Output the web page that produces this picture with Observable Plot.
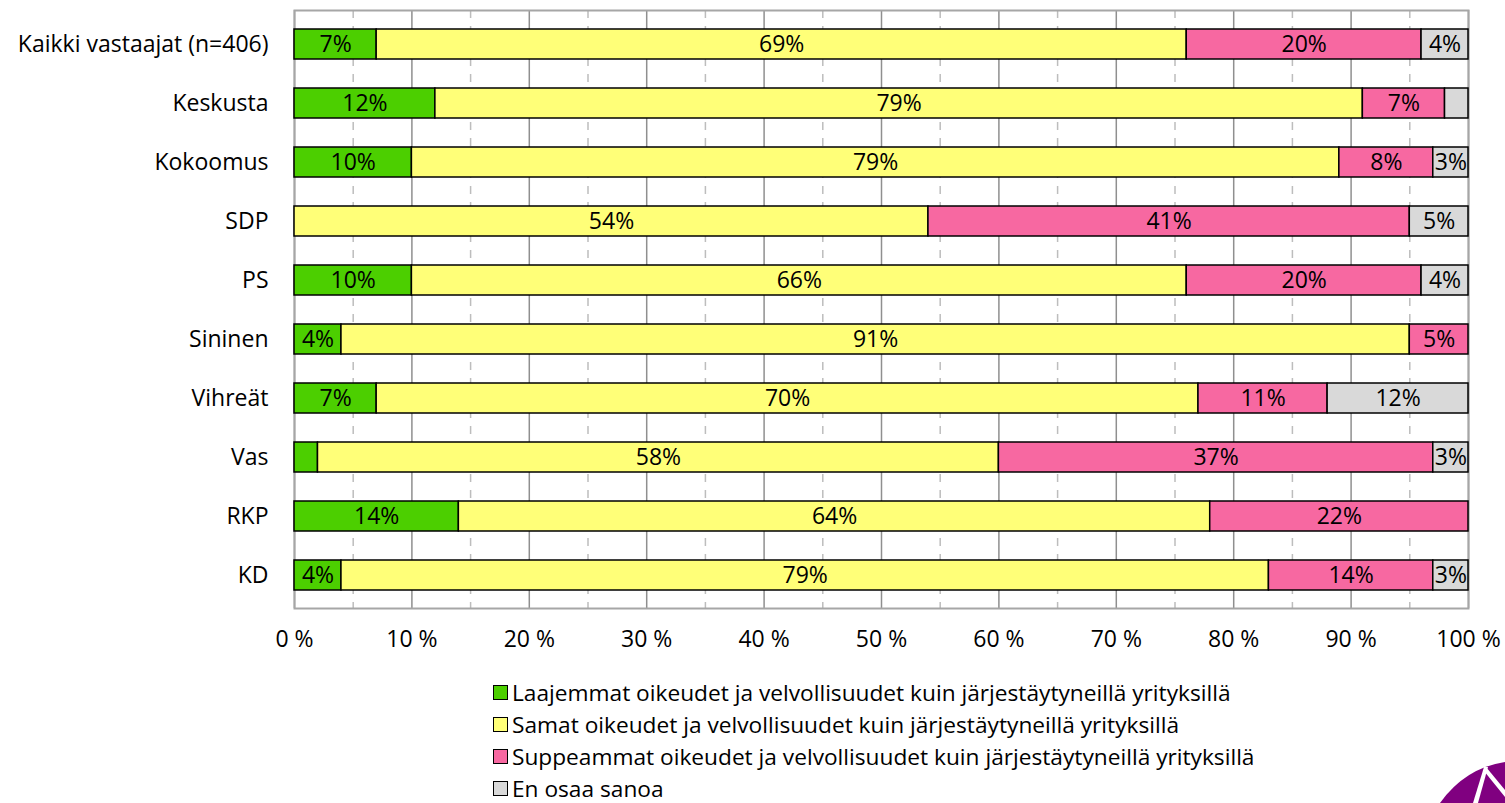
<!DOCTYPE html>
<html>
<head>
<meta charset="utf-8">
<script src="https://cdn.jsdelivr.net/npm/d3@7"></script>
<script src="https://cdn.jsdelivr.net/npm/@observablehq/plot@0.6"></script>
<style>
  html, body { margin: 0; padding: 0; background: #fff; }
  body { width: 1505px; height: 803px; overflow: hidden; font-family: "Open Sans", Lato, sans-serif; position: relative; }
  #legend { position: absolute; left: 493px; top: 681px; font-size: 22.7px; color: #000; }
  #legend .row { height: 23px; line-height: 23px; margin-bottom: 9px; display: flex; align-items: center; white-space: nowrap; }
  #legend .row:last-child { margin-bottom: 0; }
  #legend .sw { width: 13px; height: 13px; border: 1.5px solid #000; margin-right: 4px; box-sizing: content-box; flex: none; }
  #logo { position: absolute; left: 1420px; top: 740px; }
</style>
</head>
<body>
<div id="chart"></div>
<div id="legend"></div>
<svg id="logo" width="85" height="63" viewBox="0 0 85 63">
  <path d="M20,63 Q45,28 85,22 L85,63 Z" fill="#800080"/>
  <path d="M53,63 L64,27 L68,27 L58,63 Z" fill="#fff"/>
  <path d="M66,27 L85,50 L85,57 L64,31 Z" fill="#fff"/>
</svg>
<script>
const groups = ["Kaikki vastaajat (n=406)", "Keskusta", "Kokoomus", "SDP", "PS", "Sininen", "Vihreät", "Vas", "RKP", "KD"];
const categories = [
  "Laajemmat oikeudet ja velvollisuudet kuin järjestäytyneillä yrityksillä",
  "Samat oikeudet ja velvollisuudet kuin järjestäytyneillä yrityksillä",
  "Suppeammat oikeudet ja velvollisuudet kuin järjestäytyneillä yrityksillä",
  "En osaa sanoa"
];
const colors = ["#4ccf00", "#ffff78", "#f768a1", "#d9d9d9"];
const laajemmat  = [7, 12, 10, 0, 10, 4, 7, 2, 14, 4];
const samat      = [69, 79, 79, 54, 66, 91, 70, 58, 64, 79];
const suppeammat = [20, 7, 8, 41, 20, 5, 11, 37, 22, 14];
const eos        = [4, 2, 3, 5, 4, 0, 12, 3, 0, 3];
const series = [laajemmat, samat, suppeammat, eos];
const majorTicks = [0, 10, 20, 30, 40, 50, 60, 70, 80, 90, 100];
const minorTicks = [5, 15, 25, 35, 45, 55, 65, 75, 85, 95];

const data = [];
groups.forEach((g, i) => {
  series.forEach((s, k) => {
    data.push({group: g, category: categories[k], value: s[i]});
  });
});

const chart = Plot.plot({
  width: 1505,
  height: 660,
  marginLeft: 294,
  marginRight: 37,
  marginTop: 10,
  marginBottom: 52,
  style: {fontFamily: "'Open Sans', Lato, sans-serif", fontSize: "23px", color: "#000", background: "#fff"},
  x: {domain: [0, 100], ticks: majorTicks, tickFormat: d => `${d} %`, tickSize: 0, tickPadding: 22, label: null},
  y: {domain: groups, paddingInner: 0.5, paddingOuter: 0.25, tickSize: 0, tickPadding: 26, label: null},
  color: {domain: categories, range: colors},
  marks: [
    Plot.ruleX(minorTicks, {stroke: "#bdbdbd", strokeWidth: 1.5, strokeDasharray: "8,8"}),
    Plot.ruleX(majorTicks, {stroke: "#8f8f8f", strokeWidth: 1.5}),
    Plot.frame({stroke: "#a6a6a6", strokeWidth: 2}),
    Plot.barX(data.filter(d => d.value > 0), Plot.stackX({x: "value", y: "group", fill: "category", stroke: "#000", strokeWidth: 1.5, order: null})),
    Plot.text(data, Plot.stackX({x: "value", y: "group", z: "category", order: null,
      text: d => d.value >= 3 ? `${d.value}%` : "", fill: "#000", fontSize: 23}))
  ]
});
document.getElementById("chart").appendChild(chart);

const legend = document.getElementById("legend");
categories.forEach((c, k) => {
  const row = document.createElement("div");
  row.className = "row";
  const sw = document.createElement("span");
  sw.className = "sw";
  sw.style.background = colors[k];
  const t = document.createElement("span");
  t.textContent = c;
  row.appendChild(sw);
  row.appendChild(t);
  legend.appendChild(row);
});
</script>
</body>
</html>
